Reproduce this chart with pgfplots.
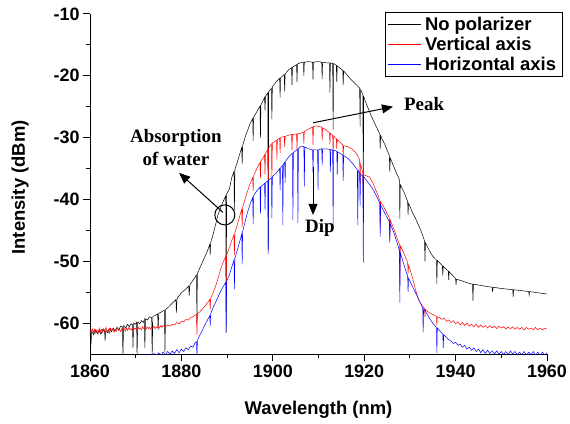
\documentclass[border=0pt]{standalone}
\usepackage{fontspec}
\setmainfont{Liberation Sans}
\newfontfamily\tnr{Liberation Serif}
\usepackage{pgfplots}
\pgfplotsset{compat=1.18}
\usetikzlibrary{arrows.meta}

\pgfplotsset{
  series/.style={line width=0.5pt, mark=none}
}

\begin{document}
\begin{tikzpicture}
\path[use as bounding box] (-90bp,-70bp) rectangle (480bp,354bp);
\begin{axis}[
  at={(0,0)}, anchor=south west,
  scale only axis, width=457bp, height=340bp,
  xmin=1860, xmax=1960, ymin=-65, ymax=-10,
  axis x line*=bottom, axis y line*=left,
  axis line style={line width=1pt, -},
  xtick={1860,1880,...,1960}, ytick={-60,-50,...,-10},
  minor x tick num=1, minor y tick num=1,
  tick align=outside, major tick length=7bp, minor tick length=4bp,
  tick style={line width=1pt, black},
  /pgf/number format/assume math mode=true,
  /pgf/number format/set thousands separator={},
  ticklabel style={font=\fontsize{18}{20}\selectfont\bfseries},
  xlabel={Wavelength (nm)}, ylabel={Intensity (dBm)},
  every axis x label/.style={at={(axis description cs:0.5,0)}, anchor=center, yshift=-56bp, font=\fontsize{18.5}{21}\selectfont\bfseries},
  every axis y label/.style={at={(axis description cs:-0.153,0.49)}, anchor=center, rotate=90, font=\fontsize{18.5}{21}\selectfont\bfseries},
  legend style={at={(1.035,1.006)}, anchor=north east, draw=black, line width=0.8pt,
    font=\fontsize{18.5}{21}\selectfont\bfseries, inner xsep=3bp, inner ysep=2bp, row sep=0pt,
    nodes={inner xsep=3.5bp, inner ysep=2.6bp}},
  legend cell align=left,
  legend image code/.code={\draw[#1] (0bp,0bp) -- (33bp,0bp);},
]
% No polarizer
\addplot[series, draw=black] coordinates {
(1860.0,-61.5) (1860.2,-63.6) (1860.4,-61.3) (1860.8,-61.9) (1861.2,-61.1) (1861.6,-61.7) (1862.0,-61.2) (1862.4,-61.8) (1862.8,-61.0) (1863.2,-61.4) (1863.3,-62.9) (1863.45,-61.2) (1863.9,-61.6) (1864.3,-60.9) (1864.7,-61.4) (1865.1,-60.8) (1865.5,-61.3) (1865.9,-60.7) (1866.3,-61.1) (1866.7,-60.5) (1867.1,-60.6) (1867.2,-65.5) (1867.35,-60.4) (1867.8,-60.8) (1868.2,-60.2) (1868.6,-60.6) (1869.0,-60.1) (1869.3,-60.3) (1869.4,-64.0) (1869.55,-60.0) (1869.9,-60.2) (1870.2,-59.9) (1870.3,-65.5) (1870.45,-59.8) (1870.9,-60.1) (1871.3,-59.6) (1871.7,-59.9) (1871.9,-59.4) (1872.0,-64.0) (1872.15,-59.3) (1872.6,-59.5) (1873.0,-59.0) (1873.5,-59.1) (1873.6,-65.5) (1873.75,-58.9) (1874.2,-58.8) (1874.8,-58.5) (1874.9,-61.1) (1875.05,-58.4) (1875.6,-58.2) (1876.3,-57.9) (1876.4,-64.7) (1876.55,-57.8) (1877.2,-57.4) (1878.0,-56.8) (1878.8,-56.2) (1878.9,-58.3) (1879.05,-56.0) (1880.0,-55.1) (1880.8,-54.6) (1881.6,-54.0) (1881.7,-55.6) (1881.85,-53.8) (1882.8,-52.8) (1883.3,-52.2) (1883.4,-60.0) (1883.5,-52.0) (1884.2,-50.8) (1885.0,-49.5) (1885.6,-48.5) (1886.2,-47.3) (1886.3,-49.0) (1886.4,-47.0) (1887.0,-45.5) (1888.0,-42.5) (1888.8,-40.9) (1889.7,-39.4) (1889.8,-61.5) (1889.9,-39.1) (1890.5,-38.3) (1891.0,-36.5) (1891.5,-35.5) (1891.6,-41.7) (1891.7,-35.2) (1892.3,-33.8) (1893.2,-31.6) (1893.3,-34.3) (1893.4,-31.3) (1894.0,-29.8) (1895.0,-27.8) (1895.6,-26.9) (1895.7,-30.5) (1895.8,-26.7) (1896.5,-25.8) (1897.2,-24.9) (1897.3,-30.0) (1897.4,-24.7) (1898.2,-23.5) (1898.3,-25.6) (1898.4,-23.3) (1898.9,-22.8) (1899.0,-48.0) (1899.1,-22.6) (1899.7,-22.0) (1899.8,-27.0) (1899.9,-21.8) (1900.7,-21.0) (1901.5,-20.4) (1901.6,-23.5) (1901.7,-20.3) (1902.5,-19.8) (1902.6,-22.5) (1902.7,-19.7) (1903.5,-19.0) (1904.1,-18.7) (1904.2,-21.5) (1904.3,-18.6) (1905.2,-18.2) (1905.3,-21.0) (1905.4,-18.1) (1906.0,-17.9) (1906.7,-17.8) (1906.8,-20.0) (1906.9,-17.8) (1907.8,-17.7) (1908.7,-17.8) (1908.8,-20.6) (1908.9,-17.8) (1909.8,-17.7) (1910.7,-17.8) (1910.8,-20.5) (1910.9,-17.8) (1911.7,-17.9) (1912.4,-17.9) (1912.5,-22.7) (1912.6,-17.9) (1913.1,-18.0) (1913.2,-28.7) (1913.3,-18.0) (1913.9,-18.3) (1914.0,-21.0) (1914.1,-18.4) (1915.3,-19.1) (1915.4,-21.5) (1915.5,-19.2) (1916.5,-20.1) (1917.5,-20.9) (1918.5,-21.6) (1919.0,-22.0) (1919.1,-28.2) (1919.2,-22.2) (1919.7,-23.0) (1919.8,-40.0) (1919.9,-23.4) (1920.5,-24.6) (1921.5,-26.4) (1922.5,-28.0) (1923.4,-29.4) (1923.5,-31.8) (1923.6,-29.7) (1924.5,-31.1) (1925.5,-32.9) (1925.6,-35.5) (1925.7,-33.3) (1926.7,-35.1) (1927.7,-36.8) (1927.8,-43.2) (1927.9,-37.6) (1928.7,-38.8) (1929.5,-40.3) (1929.6,-42.5) (1929.7,-40.6) (1930.5,-42.0) (1931.5,-43.5) (1932.5,-45.2) (1933.2,-46.7) (1933.3,-50.0) (1933.4,-47.0) (1934.2,-48.2) (1935.0,-49.2) (1935.8,-49.8) (1935.9,-53.6) (1936.0,-49.9) (1937.1,-50.7) (1937.2,-52.3) (1937.3,-50.8) (1938.4,-51.6) (1938.5,-53.0) (1938.6,-51.7) (1939.5,-52.4) (1940.0,-52.8) (1940.1,-53.8) (1940.2,-52.9) (1941.5,-53.2) (1942.6,-53.5) (1943.7,-53.7) (1943.8,-56.4) (1943.9,-53.7) (1945.5,-53.9) (1947.0,-54.1) (1948.0,-54.2) (1948.1,-55.0) (1948.2,-54.2) (1950.0,-54.4) (1952.5,-54.6) (1952.6,-55.8) (1952.7,-54.6) (1955.0,-54.8) (1956.0,-54.9) (1956.1,-55.5) (1956.2,-54.9) (1958.0,-55.1) (1960.0,-55.3)
};
\addlegendentry{No polarizer}
% Vertical axis
\addplot[series, draw=red] coordinates {
(1860.0,-61.2) (1860.25,-61.7) (1860.5,-60.9) (1860.75,-61.5) (1861.0,-61.0) (1861.25,-61.6) (1861.5,-61.1) (1861.75,-61.8) (1862.0,-60.8) (1862.25,-61.4) (1862.5,-61.0) (1862.75,-61.5) (1863.0,-60.9) (1863.25,-61.3) (1863.5,-60.7) (1863.75,-61.4) (1864.0,-61.0) (1864.25,-61.6) (1864.5,-60.8) (1864.75,-61.2) (1865.0,-60.9) (1865.25,-61.5) (1865.5,-61.0) (1865.75,-61.3) (1866.0,-60.7) (1866.25,-61.2) (1866.5,-61.0) (1866.75,-61.4) (1867.0,-60.8) (1867.25,-61.1) (1867.5,-60.9) (1867.75,-61.3) (1868.0,-60.8) (1868.25,-61.2) (1868.5,-60.7) (1868.75,-61.1) (1869.0,-60.9) (1869.25,-61.2) (1869.5,-60.7) (1869.75,-61.0) (1870.0,-60.8) (1870.25,-61.1) (1870.5,-60.6) (1870.75,-61.0) (1871.0,-60.8) (1871.25,-61.1) (1871.5,-60.6) (1871.75,-60.9) (1872.0,-60.7) (1872.25,-61.0) (1872.5,-60.6) (1872.75,-60.9) (1873.0,-60.7) (1873.25,-61.0) (1873.5,-60.6) (1873.75,-60.8) (1874.0,-60.5) (1874.25,-60.9) (1874.5,-60.6) (1874.75,-60.8) (1875.0,-60.5) (1875.25,-60.8) (1875.5,-60.4) (1875.75,-60.7) (1876.0,-60.4) (1876.5,-60.6) (1877.0,-60.3) (1877.5,-60.5) (1878.0,-60.2) (1878.5,-60.3) (1879.0,-59.9) (1879.5,-60.1) (1880.0,-59.7) (1880.5,-59.8) (1881.0,-59.4) (1881.5,-59.5) (1882.0,-59.1) (1882.5,-59.0) (1883.0,-58.7) (1883.3,-58.6) (1883.4,-61.9) (1883.5,-58.5) (1884.0,-58.2) (1884.5,-57.8) (1885.0,-57.4) (1885.5,-56.9) (1886.2,-56.2) (1886.3,-57.8) (1886.4,-56.0) (1887.0,-55.0) (1887.5,-54.0) (1888.0,-52.8) (1888.5,-51.5) (1889.0,-50.4) (1889.7,-49.2) (1889.8,-54.7) (1889.9,-49.0) (1890.5,-47.8) (1891.0,-46.7) (1891.5,-45.7) (1891.6,-49.0) (1891.7,-45.4) (1892.2,-44.2) (1892.8,-42.6) (1893.2,-41.6) (1893.3,-44.5) (1893.4,-41.3) (1894.0,-39.8) (1894.5,-38.6) (1895.0,-37.5) (1895.6,-36.5) (1895.7,-38.6) (1895.8,-36.2) (1896.5,-35.0) (1897.2,-34.0) (1897.3,-36.5) (1897.4,-33.8) (1898.2,-32.8) (1898.3,-36.0) (1898.4,-32.6) (1898.9,-31.9) (1899.0,-37.5) (1899.1,-31.7) (1899.7,-31.0) (1899.8,-36.8) (1899.9,-30.9) (1900.8,-30.4) (1900.9,-33.5) (1901.0,-30.3) (1901.5,-30.1) (1901.6,-32.5) (1901.7,-30.0) (1902.5,-29.8) (1902.6,-31.5) (1902.7,-29.8) (1903.5,-29.6) (1904.1,-29.5) (1904.2,-32.0) (1904.3,-29.5) (1905.2,-29.4) (1905.3,-32.0) (1905.4,-29.4) (1906.0,-29.3) (1906.7,-29.1) (1906.8,-31.0) (1906.9,-29.0) (1907.8,-28.6) (1908.7,-28.3) (1908.8,-31.2) (1908.9,-28.2) (1909.5,-28.1) (1910.0,-28.2) (1910.7,-28.3) (1910.8,-30.5) (1910.9,-28.4) (1911.7,-28.8) (1912.4,-29.2) (1912.5,-31.0) (1912.6,-29.3) (1913.1,-29.6) (1913.2,-32.5) (1913.3,-29.7) (1913.9,-30.2) (1914.0,-31.8) (1914.1,-30.3) (1915.3,-31.2) (1915.4,-33.0) (1915.5,-31.3) (1916.5,-31.5) (1917.5,-31.9) (1918.5,-32.8) (1919.0,-33.6) (1919.1,-37.5) (1919.2,-34.2) (1919.7,-35.8) (1919.8,-40.0) (1919.9,-36.0) (1920.5,-36.2) (1921.2,-36.4) (1922.0,-37.5) (1923.0,-39.3) (1923.4,-40.1) (1923.5,-44.5) (1923.6,-40.4) (1924.5,-41.5) (1925.5,-43.0) (1925.6,-46.3) (1925.7,-43.3) (1926.5,-44.8) (1927.2,-46.3) (1927.7,-47.2) (1927.8,-53.6) (1927.9,-47.5) (1928.5,-48.4) (1929.3,-49.8) (1929.5,-50.2) (1929.6,-52.0) (1929.7,-50.6) (1930.5,-52.5) (1931.3,-54.8) (1932.0,-56.4) (1932.7,-57.2) (1933.2,-57.6) (1933.3,-59.0) (1933.4,-57.8) (1934.2,-58.3) (1935.0,-58.6) (1935.8,-58.9) (1935.9,-60.4) (1936.0,-59.0) (1936.5,-59.1) (1937.0,-59.4) (1937.5,-59.2) (1938.0,-59.7) (1938.5,-59.5) (1939.0,-59.9) (1939.5,-59.6) (1940.0,-60.1) (1940.5,-59.8) (1941.0,-60.3) (1941.5,-59.9) (1942.0,-60.4) (1942.5,-60.0) (1943.0,-60.5) (1943.5,-60.2) (1944.0,-60.6) (1944.5,-60.2) (1945.0,-60.7) (1945.5,-60.3) (1946.0,-60.7) (1946.5,-60.4) (1947.0,-60.8) (1947.5,-60.4) (1948.0,-60.8) (1948.5,-60.5) (1949.0,-60.9) (1949.5,-60.5) (1950.0,-60.8) (1950.5,-60.6) (1951.0,-61.0) (1951.5,-60.6) (1952.0,-60.9) (1952.5,-60.6) (1953.0,-61.0) (1953.5,-60.7) (1954.0,-61.0) (1954.5,-60.7) (1955.0,-61.1) (1955.5,-60.7) (1956.0,-61.0) (1956.5,-60.8) (1957.0,-61.1) (1957.5,-60.7) (1958.0,-61.1) (1958.5,-60.8) (1959.0,-61.1) (1959.5,-60.8) (1960.0,-61.0)
};
\addlegendentry{Vertical axis}
% Horizontal axis
\addplot[series, draw=blue] coordinates {
(1866.0,-66.0) (1867.0,-65.6) (1868.0,-65.9) (1869.0,-65.4) (1869.5,-65.8) (1870.0,-65.2) (1870.5,-65.7) (1871.0,-65.3) (1871.5,-65.8) (1872.0,-65.1) (1872.5,-65.5) (1873.0,-65.0) (1873.5,-65.4) (1874.0,-64.9) (1874.5,-65.3) (1875.0,-64.8) (1875.5,-65.2) (1876.0,-64.7) (1876.5,-65.1) (1877.0,-64.6) (1877.5,-65.0) (1878.0,-64.5) (1878.5,-64.9) (1879.0,-64.3) (1879.5,-64.8) (1880.0,-64.2) (1880.5,-64.6) (1881.0,-64.0) (1881.5,-64.3) (1882.0,-63.7) (1882.5,-63.9) (1883.0,-63.2) (1883.3,-63.0) (1883.4,-65.5) (1883.5,-62.8) (1884.0,-62.0) (1884.5,-61.3) (1885.0,-60.5) (1885.5,-59.8) (1886.2,-58.8) (1886.3,-60.5) (1886.4,-58.5) (1887.0,-57.4) (1887.5,-56.6) (1888.0,-55.8) (1888.5,-55.0) (1889.0,-54.3) (1889.7,-53.4) (1889.8,-61.6) (1889.9,-53.2) (1890.5,-52.2) (1891.0,-51.0) (1891.5,-49.8) (1891.6,-54.5) (1891.7,-49.5) (1892.2,-48.3) (1892.8,-46.7) (1893.2,-45.6) (1893.3,-50.5) (1893.4,-45.2) (1894.0,-43.4) (1894.5,-42.0) (1895.0,-40.8) (1895.6,-39.7) (1895.7,-44.0) (1895.8,-39.4) (1896.5,-38.6) (1897.2,-38.0) (1897.3,-42.3) (1897.4,-37.9) (1898.2,-37.4) (1898.3,-41.7) (1898.4,-37.3) (1898.9,-37.0) (1899.0,-48.8) (1899.1,-36.9) (1899.7,-36.5) (1899.8,-43.0) (1899.9,-36.3) (1900.8,-35.7) (1901.5,-35.0) (1901.6,-38.5) (1901.7,-34.9) (1902.1,-34.5) (1902.2,-44.2) (1902.3,-34.3) (1902.6,-34.0) (1902.7,-37.3) (1902.8,-33.8) (1903.5,-33.1) (1904.3,-32.5) (1904.4,-43.4) (1904.5,-32.4) (1905.4,-31.9) (1905.5,-43.8) (1905.6,-31.8) (1906.2,-31.4) (1906.8,-31.4) (1906.9,-37.9) (1907.0,-31.5) (1907.8,-31.8) (1908.7,-32.0) (1908.8,-35.7) (1908.9,-32.0) (1909.8,-32.0) (1909.9,-38.4) (1910.0,-32.0) (1910.7,-31.8) (1910.8,-34.5) (1910.9,-31.8) (1911.6,-31.8) (1912.5,-31.9) (1912.6,-35.5) (1912.7,-31.9) (1913.1,-32.0) (1913.2,-44.5) (1913.3,-32.0) (1914.0,-32.2) (1914.1,-36.0) (1914.2,-32.3) (1915.3,-32.8) (1915.4,-37.0) (1915.5,-32.9) (1916.5,-33.4) (1917.5,-34.2) (1918.5,-35.2) (1918.6,-44.2) (1918.7,-35.3) (1919.0,-35.7) (1919.1,-41.0) (1919.2,-35.9) (1919.7,-36.2) (1919.8,-50.2) (1919.9,-36.3) (1920.8,-37.2) (1921.8,-38.2) (1922.8,-39.6) (1923.4,-40.6) (1923.5,-46.0) (1923.6,-40.9) (1924.5,-42.2) (1925.5,-43.6) (1925.6,-47.0) (1925.7,-43.9) (1926.5,-45.4) (1927.2,-47.0) (1927.7,-48.3) (1927.8,-56.7) (1927.9,-48.6) (1928.5,-50.1) (1929.3,-52.0) (1929.5,-52.3) (1929.6,-55.0) (1929.7,-52.7) (1930.5,-54.0) (1931.3,-55.2) (1932.0,-56.3) (1932.8,-57.5) (1932.9,-61.5) (1933.0,-57.7) (1933.8,-58.6) (1934.6,-59.6) (1935.3,-60.3) (1935.8,-60.7) (1935.9,-64.8) (1936.0,-60.8) (1936.6,-61.3) (1937.2,-61.8) (1937.3,-64.0) (1937.4,-61.9) (1938.0,-62.3) (1938.5,-62.7) (1939.0,-62.9) (1939.5,-63.3) (1940.0,-63.1) (1940.5,-63.6) (1941.0,-63.4) (1941.5,-63.9) (1942.0,-63.6) (1942.5,-64.2) (1943.0,-63.9) (1943.5,-64.4) (1944.0,-64.0) (1944.5,-64.6) (1945.0,-64.2) (1945.5,-64.8) (1946.0,-64.3) (1946.5,-64.9) (1947.0,-64.4) (1947.5,-64.9) (1948.0,-64.5) (1948.5,-65.0) (1949.0,-64.5) (1949.5,-65.0) (1950.0,-64.6) (1950.5,-65.1) (1951.0,-64.6) (1951.5,-65.1) (1952.0,-64.5) (1952.5,-65.0) (1953.0,-64.6) (1953.5,-65.1) (1954.0,-64.7) (1954.5,-65.1) (1955.0,-64.6) (1955.5,-65.2) (1956.0,-64.7) (1956.5,-65.1) (1957.0,-64.6) (1957.5,-65.2) (1958.0,-64.7) (1958.5,-65.2) (1959.0,-64.7) (1959.5,-65.2) (1960.0,-64.8)
};
\addlegendentry{Horizontal axis}

% annotations
\draw[line width=1pt] (axis cs:1889.5,-42.5) circle[radius=10bp];
\draw[line width=1pt, -{Triangle[length=11bp,width=9bp]}] (axis cs:1889.1,-42.1) -- (axis cs:1879.5,-35.7);
\node[font=\fontsize{19}{24}\selectfont\tnr\bfseries, align=center] at (axis cs:1878.8,-31.6) {Absorption\\of water};
\draw[line width=1pt, -{Triangle[length=11bp,width=9bp]}] (axis cs:1908.8,-27.6) -- (axis cs:1926.3,-25.0);
\node[font=\fontsize{19}{24}\selectfont\tnr\bfseries] at (axis cs:1933.1,-24.5) {Peak};
\draw[line width=1pt, -{Triangle[length=11bp,width=9bp]}] (axis cs:1908.8,-34.7) -- (axis cs:1908.8,-42.5);
\node[font=\fontsize{19}{24}\selectfont\tnr\bfseries] at (axis cs:1910.3,-44.6) {Dip};
\end{axis}
\end{tikzpicture}
\end{document}
